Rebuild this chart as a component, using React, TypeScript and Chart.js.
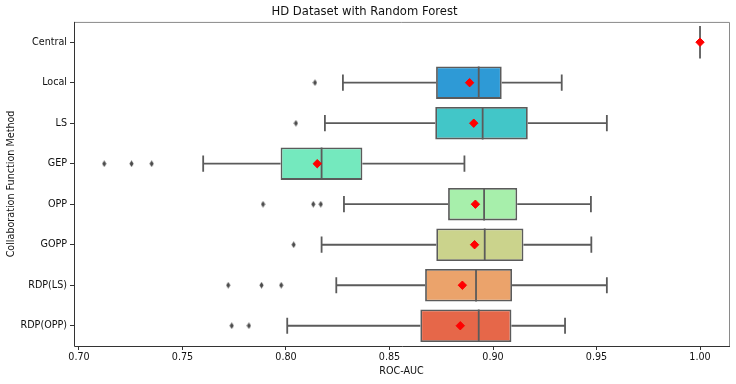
import React, { useEffect, useRef } from "react";
import { Chart, registerables } from "chart.js";

Chart.register(...registerables);

const categories = ["Central", "Local", "LS", "GEP", "OPP", "GOPP", "RDP(LS)", "RDP(OPP)"];
const whiskerLow = [1.0, 0.8275, 0.8188, 0.760, 0.828, 0.8172, 0.8243, 0.8006];
const q1 = [1.0, 0.8725, 0.8721, 0.7974, 0.8783, 0.8726, 0.8672, 0.8649];
const median = [1.0, 0.8931, 0.895, 0.8172, 0.8957, 0.896, 0.8918, 0.8931];
const q3 = [1.0, 0.9042, 0.9168, 0.8369, 0.9117, 0.9147, 0.9092, 0.9089];
const whiskerHigh = [1.0, 0.9332, 0.955, 0.8862, 0.9473, 0.9475, 0.955, 0.9348];
const means = [1.0, 0.8887, 0.8907, 0.8151, 0.8915, 0.8911, 0.8852, 0.8842];
const outliers: number[][] = [
  [],
  [0.814],
  [0.8048],
  [0.7122, 0.7254, 0.7351],
  [0.7889, 0.8132, 0.8168],
  [0.8037],
  [0.7721, 0.7882, 0.7977],
  [0.7738, 0.7821],
];
const boxColors = ["#2e9ad6", "#2e9ad6", "#42c6c8", "#74e9be", "#a7efab", "#cbd38c", "#eba36b", "#e66749"];
const xTicks = [0.7, 0.75, 0.8, 0.85, 0.9, 0.95, 1.0];

const LINE = "#5b5b5b";
const FONT = "'DejaVu Sans', sans-serif";

function makeThinDiamond(): HTMLCanvasElement {
  const c = document.createElement("canvas");
  c.width = 5;
  c.height = 7;
  const g = c.getContext("2d")!;
  g.fillStyle = "#4a4a4a";
  g.beginPath();
  g.moveTo(2.5, 0.3);
  g.lineTo(4.6, 3.5);
  g.lineTo(2.5, 6.7);
  g.lineTo(0.4, 3.5);
  g.closePath();
  g.fill();
  return c;
}

export default function App() {
  const ref = useRef<HTMLCanvasElement | null>(null);

  useEffect(() => {
    document.body.style.margin = "0";
    if (!ref.current) return;

    const outlierPoints: { x: number; y: string }[] = [];
    outliers.forEach((list, i) => list.forEach((v) => outlierPoints.push({ x: v, y: categories[i] })));
    const meanPoints = means.map((v, i) => ({ x: v, y: categories[i] }));

    const boxPlugin = {
      id: "boxExtras",
      afterDatasetDraw(chart: any, args: any) {
        if (args.index !== 0) return;
        const ctx = chart.ctx;
        const xs = chart.scales.x;
        const ys = chart.scales.y;
        const band = (ys.bottom - ys.top) / categories.length;
        const half = band * 0.8 / 2;
        const cap = band * 0.8 / 4;
        ctx.save();
        ctx.strokeStyle = LINE;
        ctx.lineWidth = 1.8;
        ctx.lineCap = "butt";
        categories.forEach((_, i) => {
          const y = ys.getPixelForValue(i);
          const pLo = xs.getPixelForValue(whiskerLow[i]);
          const pQ1 = xs.getPixelForValue(q1[i]);
          const pQ3 = xs.getPixelForValue(q3[i]);
          const pHi = xs.getPixelForValue(whiskerHigh[i]);
          const pMed = xs.getPixelForValue(median[i]);
          ctx.beginPath();
          ctx.moveTo(pLo, y);
          ctx.lineTo(pQ1, y);
          ctx.moveTo(pQ3, y);
          ctx.lineTo(pHi, y);
          ctx.moveTo(pLo, y - cap);
          ctx.lineTo(pLo, y + cap);
          ctx.moveTo(pHi, y - cap);
          ctx.lineTo(pHi, y + cap);
          ctx.moveTo(pMed, y - half);
          ctx.lineTo(pMed, y + half);
          ctx.stroke();
        });
        ctx.restore();
      },
      afterDraw(chart: any) {
        const { left, right, top, bottom } = chart.chartArea;
        const ctx = chart.ctx;
        ctx.save();
        ctx.lineWidth = 1;
        ctx.strokeStyle = "#8a8a8a";
        ctx.beginPath();
        ctx.moveTo(left, top + 0.5);
        ctx.lineTo(right + 0.5, top + 0.5);
        ctx.lineTo(right + 0.5, bottom);
        ctx.stroke();
        ctx.strokeStyle = "#333333";
        ctx.beginPath();
        ctx.moveTo(left + 0.5, top);
        ctx.lineTo(left + 0.5, bottom + 0.5);
        ctx.lineTo(right + 1, bottom + 0.5);
        ctx.stroke();
        ctx.restore();
      },
    };

    const chart = new Chart(ref.current, {
      type: "bar",
      data: {
        labels: categories,
        datasets: [
          {
            type: "bar",
            label: "box",
            order: 3,
            data: categories.map((_, i) => [q1[i], q3[i]]) as any,
            backgroundColor: categories.map((_, i) => (q1[i] === q3[i] ? "rgba(0,0,0,0)" : boxColors[i])),
            borderColor: categories.map((_, i) => (q1[i] === q3[i] ? "rgba(0,0,0,0)" : LINE)),
            borderWidth: 1.8,
            borderSkipped: false,
            barPercentage: 0.8,
            categoryPercentage: 1.0,
            xAxisID: "x",
            yAxisID: "y",
          } as any,
          {
            type: "scatter",
            label: "outliers",
            order: 2,
            data: outlierPoints as any,
            pointStyle: makeThinDiamond() as any,
            pointRadius: 3,
            xAxisID: "x",
            yAxisID: "y",
          } as any,
          {
            type: "scatter",
            label: "mean",
            order: 1,
            data: meanPoints as any,
            pointStyle: "rectRot",
            pointRadius: 4.2,
            pointBackgroundColor: "#ff0000",
            pointBorderColor: "#ff0000",
            pointBorderWidth: 1,
            xAxisID: "x",
            yAxisID: "y",
          } as any,
        ],
      },
      options: {
        indexAxis: "y",
        animation: false,
        responsive: true,
        maintainAspectRatio: false,
        layout: { padding: { left: 0, right: 7, top: 0, bottom: 0 } },
        plugins: {
          legend: { display: false },
          tooltip: { enabled: false },
          title: {
            display: true,
            text: "HD Dataset with Random Forest",
            color: "#111",
            font: { family: FONT, size: 11.6, weight: "normal" },
            padding: { top: 5, bottom: 3 },
          },
        },
        scales: {
          x: {
            type: "linear",
            position: "bottom",
            min: 0.6976,
            max: 1.014,
            afterBuildTicks: (scale: any) => {
              scale.ticks = xTicks.map((v) => ({ value: v }));
            },
            afterFit: (scale: any) => {
              scale.height = 38;
            },
            ticks: {
              color: "#111",
              font: { family: FONT, size: 9.6 },
              padding: 2,
              maxRotation: 0,
              autoSkip: false,
              callback: (v: any) => Number(v).toFixed(2),
            },
            grid: {
              display: true,
              drawOnChartArea: false,
              drawTicks: true,
              tickLength: 4,
              color: "#333",
            },
            border: { display: false },
            title: {
              display: true,
              text: "ROC-AUC",
              color: "#111",
              font: { family: FONT, size: 9.6 },
              padding: { top: 0, bottom: 7 },
            },
          },
          y: {
            type: "category",
            position: "left",
            offset: true,
            afterFit: (scale: any) => {
              scale.width = 74;
            },
            ticks: {
              color: "#111",
              font: { family: FONT, size: 9.6 },
              padding: 3,
              autoSkip: false,
            },
            grid: {
              display: true,
              offset: false,
              drawOnChartArea: false,
              drawTicks: true,
              tickLength: 4,
              color: "#333",
            },
            border: { display: false },
            title: {
              display: true,
              text: "Collaboration Function Method",
              color: "#111",
              font: { family: FONT, size: 9.6 },
              padding: { top: 6, bottom: 0 },
            },
          },
        },
      } as any,
      plugins: [boxPlugin],
    });

    return () => chart.destroy();
  }, []);

  return (
    <div style={{ width: 736, height: 384, position: "relative" }}>
      <canvas ref={ref} />
    </div>
  );
}
